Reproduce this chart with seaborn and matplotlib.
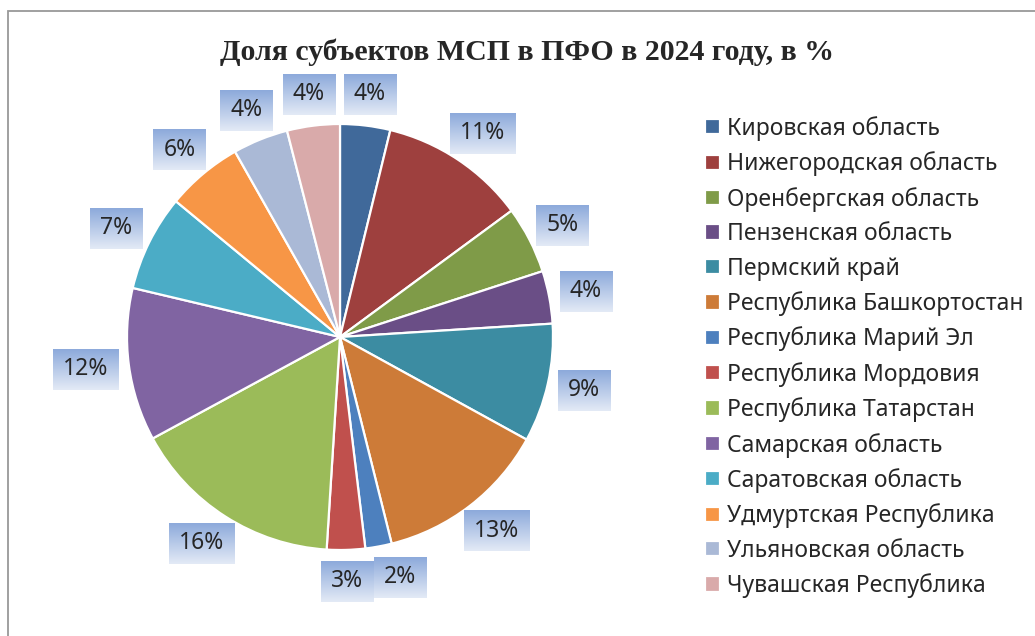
import matplotlib
matplotlib.use('Agg')
import numpy as np
import matplotlib.pyplot as plt
import seaborn as sns
from matplotlib.colors import LinearSegmentedColormap
from matplotlib.patches import Rectangle

sns.set_style('white')
plt.rcParams['font.family'] = ['Noto Sans', 'DejaVu Sans']

# data (share of SMEs, %)
regions = ['Кировская область', 'Нижегородская область', 'Оренбергская область',
           'Пензенская область', 'Пермский край', 'Республика Башкортостан',
           'Республика Марий Эл', 'Республика Мордовия', 'Республика Татарстан',
           'Самарская область', 'Саратовская область', 'Удмуртская Республика',
           'Ульяновская область', 'Чувашская Республика']
shares = [3.8, 11.1, 5.1, 4.0, 9.0, 13.1, 2.0, 2.9, 16.1, 11.6, 7.3, 5.8, 4.2, 4.0]
colors = ['#40699A', '#9E403E', '#7F9B48', '#6A4E86', '#3C8CA2', '#CD7B38', '#4D80BE',
          '#C0504D', '#9BBB59', '#8064A2', '#4BACC6', '#F79646', '#AAB9D6', '#D9AAAA']
title = 'Доля субъектов МСП в ПФО в 2024 году, в %'

W, H = 1035, 636
fig = plt.figure(figsize=(W / 100, H / 100), dpi=100)
ax = fig.add_axes([0, 0, 1, 1])   # axes in pixel units

cx, cy, R = 340, H - 337, 213
palette = sns.color_palette(colors)
wedges, _ = ax.pie(shares, colors=palette, startangle=90, counterclock=False,
                   center=(cx, cy), radius=R,
                   wedgeprops=dict(edgecolor='white', linewidth=1.6))

# data labels with gradient boxes, outside end
grad_cmap = LinearSegmentedColormap.from_list('lbl', ['#8DAADB', '#E3EAF6'])
grad = np.linspace(0, 1, 64).reshape(-1, 1)
fig.canvas.draw()
renderer = fig.canvas.get_renderer()
total = sum(shares)
gap = 11
labels = []
for w, v in zip(wedges, shares):
    ang = np.deg2rad((w.theta1 + w.theta2) / 2)
    dx, dy = np.cos(ang), np.sin(ang)
    t = ax.text(0, 0, f'{v / total * 100:.0f}%', fontsize=16.5, ha='center', va='center')
    bb = t.get_window_extent(renderer)
    bw, bh = bb.width + 20, 41
    x = cx + dx * (R + gap) + dx * bw / 2
    y = cy + dy * (R + gap) + dy * bh / 2
    labels.append([t, x, y, bw, bh])

# push apart neighbouring labels that collide (small bottom slices)
for a, b in zip(labels[:-1], labels[1:]):
    ox = (a[3] + b[3]) / 2 - abs(a[1] - b[1])
    oy = (a[4] + b[4]) / 2 - abs(a[2] - b[2])
    if ox > 0 and oy > 0:
        a[1] += np.sign(a[1] - b[1]) * (ox + 1)

for i, (t, x, y, bw, bh) in enumerate(labels):
    t.set_position((x, y))
    t.set_zorder(5 + 2 * i)
    ax.imshow(grad, cmap=grad_cmap, aspect='auto', origin='upper',
              extent=[x - bw / 2, x + bw / 2, y - bh / 2, y + bh / 2],
              zorder=4 + 2 * i)

# outer chart frame (only top and left edges fall inside the picture)
ax.add_patch(Rectangle((8, -20), W + 40, H - 11 + 20, fill=False,
                       edgecolor='#999999', linewidth=1.3, clip_on=False))

ax.legend(wedges, regions, loc='upper left', bbox_to_anchor=(705, H - 116),
          bbox_transform=ax.transData, frameon=False, fontsize=16.5,
          handlelength=0.65, handleheight=0.65, handletextpad=0.3,
          labelspacing=0.46, borderpad=0, borderaxespad=0)

fig.text(527 / W, 1 - 52 / H, title, ha='center', va='center',
         family='Liberation Serif', weight='bold', fontsize=21.5)

ax.set_xlim(0, W)
ax.set_ylim(0, H)
ax.axis('off')
fig.savefig('out.png', dpi=100)
